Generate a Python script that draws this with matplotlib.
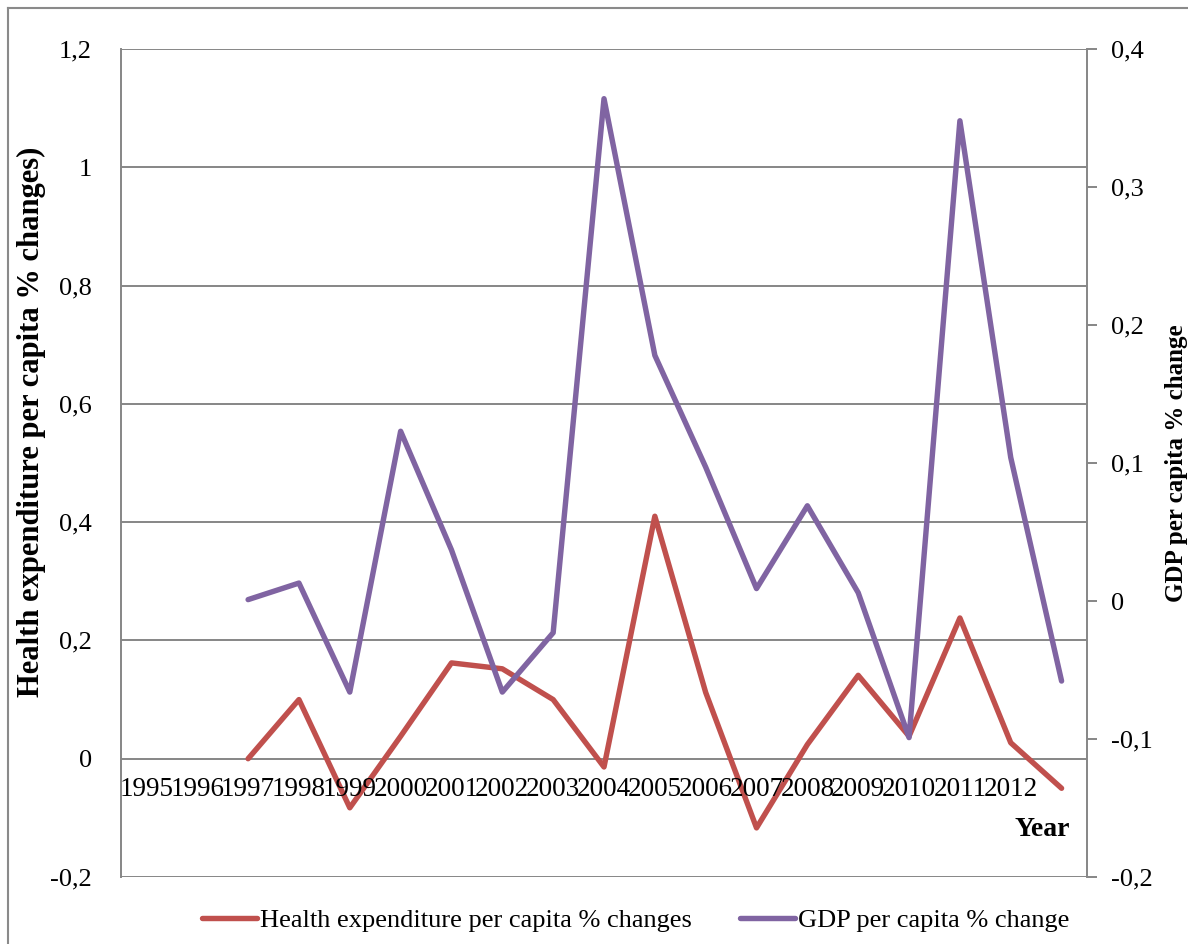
import matplotlib
matplotlib.use("Agg")
import matplotlib.pyplot as plt
import matplotlib.transforms as mtransforms
from matplotlib.lines import Line2D
import numpy as np

plt.rcParams['font.family'] = ['Liberation Serif', 'DejaVu Serif']

# categories (last slot has no label in the original)
year_labels = ['1995', '1996', '1997', '1998', '1999', '2000', '2001', '2002', '2003',
               '2004', '2005', '2006', '2007', '2008', '2009', '2010', '2011', '2012', '']

health = [np.nan, np.nan, 0.0, 0.10, -0.083, 0.038, 0.162, 0.152, 0.10,
          -0.014, 0.41, 0.112, -0.117, 0.024, 0.141, 0.038, 0.238, 0.027, -0.050]
gdp = [np.nan, np.nan, 0.001, 0.013, -0.066, 0.123, 0.037, -0.066, -0.023,
       0.364, 0.178, 0.097, 0.009, 0.069, 0.006, -0.099, 0.348, 0.104, -0.058]

RED = '#C0504D'
PURPLE = '#8064A2'
GRID = '#868686'

def comma(v):
    s = ('%.1f' % v).replace('.', ',')
    if s in ('0,0', '-0,0'):
        return '0'
    if s.endswith(',0'):
        s = s[:-2]
    return s

fig = plt.figure(figsize=(11.88, 9.44), dpi=100)
ax = fig.add_axes([121/1188, 1-877/944, 966/1188, 828/944])

x = np.arange(len(year_labels)) + 0.5
ax.set_xlim(0, len(year_labels))
ax.set_ylim(-0.2, 1.2)

left_ticks = np.arange(-0.2, 1.21, 0.2)
for t in left_ticks:
    ax.axhline(t, color=GRID, lw=1.4, zorder=1)
ax.set_yticks(left_ticks)
ax.set_yticklabels([comma(t) for t in left_ticks], fontsize=19)
ax.tick_params(axis='y', length=0, pad=21)
ax.set_xticks([])
for s in ['top', 'bottom']:
    ax.spines[s].set_visible(False)
ax.spines['left'].set_color(GRID)
ax.spines['left'].set_linewidth(1.4)
ax.spines['right'].set_visible(False)

ln1, = ax.plot(x, health, color=RED, lw=3.9, solid_capstyle='round',
               solid_joinstyle='round', zorder=3)

# year labels sit on the zero line
off = mtransforms.offset_copy(ax.transData, fig=fig, x=0, y=-31, units='dots')
for xi, lab in zip(x, year_labels):
    ax.text(xi, 0, lab, transform=off, ha='center', va='center', fontsize=19.5)

ax.set_ylabel('Health expenditure per capita % changes)', fontsize=22,
              fontweight='bold')
ax.yaxis.set_label_coords(-0.078, 0.55)

ax2 = ax.twinx()
ax2.set_ylim(-0.2, 0.4)
right_ticks = np.arange(-0.2, 0.41, 0.1)
ax2.set_yticks(right_ticks)
ax2.set_yticklabels([comma(t) for t in right_ticks], fontsize=19)
ax2.tick_params(axis='y', direction='out', length=7, width=1.4, color=GRID, pad=10)
for s in ['top', 'bottom', 'left']:
    ax2.spines[s].set_visible(False)
ax2.spines['right'].set_color(GRID)
ax2.spines['right'].set_linewidth(1.4)

ln2, = ax2.plot(x, gdp, color=PURPLE, lw=3.9, solid_capstyle='round',
                solid_joinstyle='round', zorder=3)

ax2.set_ylabel('GDP per capita % change', fontsize=18, fontweight='bold')
ax2.yaxis.set_label_coords(1.081, 0.50)

fig.text(1070/1188, 1-830/944, 'Year', ha='right', va='center', fontsize=20,
         fontweight='bold')

fig.legend([ln1, ln2], ['Health expenditure per capita % changes', 'GDP per capita % change'],
           loc='center', bbox_to_anchor=(0.535, 1-920/944), ncol=2, frameon=False,
           fontsize=19, handlelength=2.1, handletextpad=0.12, columnspacing=1.8)

# outer frame (only left and top edges visible in the original)
fig.add_artist(Line2D([8/1188, 8/1188], [0, 1-8/944], transform=fig.transFigure,
                      color='#8a8a8a', lw=1.5))
fig.add_artist(Line2D([8/1188, 1], [1-8/944, 1-8/944], transform=fig.transFigure,
                      color='#8a8a8a', lw=1.5))

fig.savefig('out.png', dpi=100)
